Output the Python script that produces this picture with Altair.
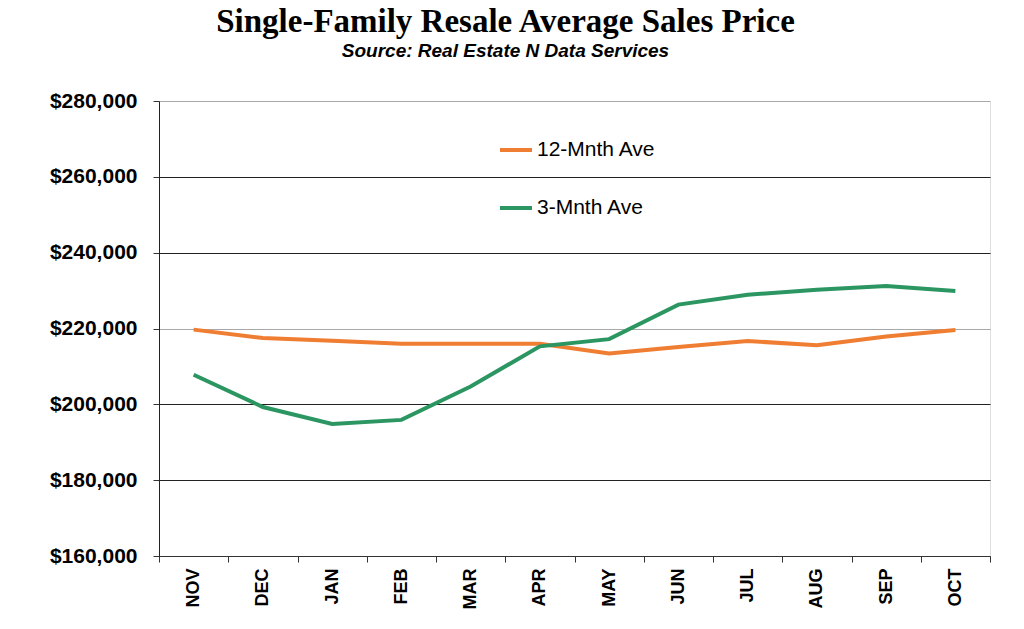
import altair as alt
import pandas as pd

months = ["NOV", "DEC", "JAN", "FEB", "MAR", "APR", "MAY", "JUN", "JUL", "AUG", "SEP", "OCT"]
ave12 = [219700, 217500, 216800, 216000, 216000, 216000, 213400, 215100, 216700, 215600, 217900, 219600]
ave3 = [207800, 199300, 194800, 195900, 204700, 215300, 217200, 226300, 228900, 230200, 231200, 229900]
series_names = ["12-Mnth Ave", "3-Mnth Ave"]
series_colors = ["#EF7D32", "#2B9662"]

rows = []
for name, vals in zip(series_names, [ave12, ave3]):
    for m, v in zip(months, vals):
        rows.append({"month": m, "price": v, "series": name})
df = pd.DataFrame(rows)

chart = alt.Chart(df).mark_line(strokeWidth=4).encode(
    x=alt.X("month:N", sort=months, title=None,
            scale=alt.Scale(type="band", paddingInner=0, paddingOuter=0),
            axis=alt.Axis(labelAngle=-90, labelAlign="right", labelBaseline="middle",
                          labelFont="Liberation Sans", labelFontWeight="bold", labelFontSize=18,
                          labelColor="#000", tickBand="extent", tickSize=6, tickColor="#333",
                          domainColor="#333", labelPadding=6, grid=False)),
    y=alt.Y("price:Q", title=None,
            scale=alt.Scale(domain=[160000, 280000], nice=False, zero=False),
            axis=alt.Axis(values=[160000, 180000, 200000, 220000, 240000, 260000, 280000],
                          format="$,.0f", labelFont="Liberation Sans", labelFontWeight="bold",
                          labelFontSize=21, labelColor="#000", tickSize=6, tickColor="#333",
                          domainColor="#222", labelPadding=16,
                          gridColor=alt.condition("datum.value == 220000 || datum.value == 280000",
                                                  alt.value("#a8a8a8"), alt.value("#222222")),
                          gridWidth=1.2)),
    color=alt.Color("series:N", sort=series_names,
                    scale=alt.Scale(domain=series_names, range=series_colors),
                    legend=alt.Legend(title=None, orient="none", legendX=339, legendY=31,
                                      symbolType="stroke", symbolSize=1024, symbolStrokeWidth=4,
                                      labelFont="Liberation Sans", labelFontSize=21, labelColor="#000",
                                      labelOffset=3, rowPadding=30, padding=0)),
).properties(
    width=831, height=455,
    autosize=alt.AutoSizeParams(type="none"),
    padding={"left": 151, "top": 93, "right": 10, "bottom": 60},
    title=alt.TitleParams(
        "Single-Family Resale Average Sales Price",
        subtitle="Source: Real Estate N Data Services",
        font="Liberation Serif", fontSize=33, fontWeight="bold", color="#000",
        subtitleFont="Liberation Sans", subtitleFontSize=19, subtitleFontStyle="italic",
        subtitleFontWeight="bold", subtitleColor="#000", subtitlePadding=3,
        anchor="middle", dx=-69, offset=29,
    ),
).configure_view(stroke="#999", strokeWidth=1.2).configure(background="white")

chart.save("out.html", embed_options={"renderer": "svg", "actions": False})
